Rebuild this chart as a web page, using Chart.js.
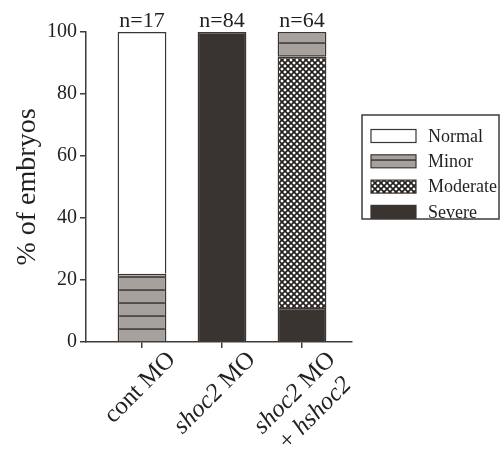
<!DOCTYPE html>
<html>
<head>
<meta charset="utf-8">
<script src="https://cdn.jsdelivr.net/npm/chart.js@4.4.1/dist/chart.umd.min.js"></script>
<style>
  html, body { margin: 0; padding: 0; background: #fff; }
  #wrap { width: 503px; height: 464px; position: relative; }
</style>
</head>
<body>
<div id="wrap"><canvas id="embryoChart"></canvas></div>
<script>
// data (percent of embryos per phenotype)
const categories = ['cont MO', 'shoc2 MO', 'shoc2 MO\n+ hshoc2'];
const italicWords = ['shoc2', 'hshoc2'];
const nValues = [17, 84, 64];
const severe = [0, 100, 11];
const moderate = [0, 0, 81];
const minor = [22, 0, 8];
const normal = [78, 0, 0];
const yTicks = [0, 20, 40, 60, 80, 100];

const family = '"Liberation Serif", "Times New Roman", serif';
const textColor = '#231f20';
const axisColor = '#3f3b39';
const edgeColor = '#3b3633';

// hatch fills
function makeMinorPattern() {
    const c = document.createElement('canvas');
    c.width = 8; c.height = 13;
    const g = c.getContext('2d');
    g.fillStyle = '#a7a19e';
    g.fillRect(0, 0, 8, 13);
    g.fillStyle = '#3b3633';
    g.fillRect(0, 3.3, 8, 1.5);
    return g.createPattern(c, 'repeat');
}

function makeCrossPattern() {
    const s = 6;
    const c = document.createElement('canvas');
    c.width = s; c.height = s;
    const g = c.getContext('2d');
    g.fillStyle = '#ffffff';
    g.fillRect(0, 0, s, s);
    g.strokeStyle = '#231f1e';
    g.lineWidth = 1.7;
    for (let d = -s; d <= s; d += s) {
        g.beginPath();
        g.moveTo(d - 1, -1); g.lineTo(d + s + 1, s + 1);
        g.moveTo(d + s + 1, -1); g.lineTo(d - 1, s + 1);
        g.stroke();
    }
    return g.createPattern(c, 'repeat');
}

const minorFill = makeMinorPattern();
const crossFill = makeCrossPattern();

function points(arr) {
    return arr.map((v, i) => ({ x: i, y: v }));
}

// n= counts above each bar
const countLabels = {
    id: 'countLabels',
    afterDatasetsDraw(chart) {
        const { ctx, scales } = chart;
        ctx.save();
        ctx.fillStyle = textColor;
        ctx.font = '22px ' + family;
        ctx.textAlign = 'center';
        ctx.textBaseline = 'alphabetic';
        nValues.forEach((n, i) => {
            const total = severe[i] + moderate[i] + minor[i] + normal[i];
            ctx.fillText('n=' + n, scales.x.getPixelForValue(i), scales.y.getPixelForValue(total) - 5);
        });
        ctx.restore();
    }
};

// rotated category labels with italic gene names
const categoryLabels = {
    id: 'categoryLabels',
    afterDraw(chart) {
        const { ctx, scales, chartArea } = chart;
        const size = 25;
        const fontFor = p => (p.italic ? 'italic ' : '') + size + 'px ' + family;
        ctx.save();
        ctx.fillStyle = textColor;
        ctx.textBaseline = 'middle';
        ctx.textAlign = 'left';
        categories.forEach((label, i) => {
            const ax = scales.x.getPixelForValue(i) + 30;
            const ay = chartArea.bottom + 14;
            const lines = label.split('\n').map(line => {
                const words = line.split(' ');
                const parts = words.map((w, k) => ({
                    text: w + (k < words.length - 1 ? ' ' : ''),
                    italic: italicWords.includes(w)
                }));
                let total = 0;
                parts.forEach(p => {
                    ctx.font = fontFor(p);
                    p.w = ctx.measureText(p.text).width;
                    total += p.w;
                });
                return { parts, total };
            });
            const mid = -lines[0].total / 2;
            ctx.save();
            ctx.translate(ax, ay);
            ctx.rotate(-Math.PI / 4);
            lines.forEach((ln, li) => {
                let x = mid - ln.total / 2;
                ln.parts.forEach(p => {
                    ctx.font = fontFor(p);
                    ctx.fillText(p.text, x, li * 29);
                    x += p.w;
                });
            });
            ctx.restore();
        });
        ctx.restore();
    }
};

// boxed legend on the right
const boxLegend = {
    id: 'boxLegend',
    afterDraw(chart) {
        const { ctx } = chart;
        const items = chart.data.datasets.slice().reverse();
        ctx.save();
        ctx.lineWidth = 1.5;
        ctx.strokeStyle = axisColor;
        ctx.strokeRect(362, 115, 137, 104);
        ctx.font = '18px ' + family;
        ctx.textBaseline = 'middle';
        ctx.textAlign = 'left';
        items.forEach((ds, k) => {
            const yc = 136 + k * 25.3;
            ctx.fillStyle = ds.backgroundColor;
            ctx.fillRect(371, yc - 6.5, 45, 13);
            ctx.lineWidth = 1.2;
            ctx.strokeStyle = edgeColor;
            ctx.strokeRect(371, yc - 6.5, 45, 13);
            ctx.fillStyle = textColor;
            ctx.fillText(ds.label, 428, yc + 1);
        });
        ctx.restore();
    }
};

const ctx = document.getElementById('embryoChart');

new Chart(ctx, {
    type: 'bar',
    data: {
        datasets: [
            { label: 'Severe', data: points(severe), backgroundColor: '#3a3431' },
            { label: 'Moderate', data: points(moderate), backgroundColor: crossFill },
            { label: 'Minor', data: points(minor), backgroundColor: minorFill },
            { label: 'Normal', data: points(normal), backgroundColor: '#ffffff' }
        ]
    },
    options: {
        responsive: true,
        maintainAspectRatio: false,
        animation: false,
        datasets: {
            bar: {
                borderColor: edgeColor,
                borderWidth: 1.5,
                categoryPercentage: 0.61,
                barPercentage: 1
            }
        },
        layout: {
            padding: { top: 32, right: 151, left: 0, bottom: 0 }
        },
        plugins: {
            legend: { display: false },
            tooltip: { enabled: false }
        },
        scales: {
            x: {
                type: 'linear',
                stacked: true,
                offset: false,
                bounds: 'data',
                min: -0.7,
                max: 2.625,
                afterDataLimits: s => { s.min = -0.7; s.max = 2.625; },
                afterBuildTicks: s => { s.ticks = categories.map((c, i) => ({ value: i })); },
                afterFit: s => { s.height = 122; },
                grid: { offset: false, drawOnChartArea: false, drawTicks: true, tickLength: 6, color: axisColor, lineWidth: 1.5 },
                border: { color: axisColor, width: 1.5 },
                ticks: { display: false }
            },
            y: {
                stacked: true,
                min: 0,
                max: 100,
                afterBuildTicks: s => { s.ticks = yTicks.map(v => ({ value: v })); },
                afterFit: s => { s.width = 86; },
                grid: { drawOnChartArea: false, drawTicks: true, tickLength: 6, color: axisColor, lineWidth: 1.5 },
                border: { color: axisColor, width: 1.5 },
                ticks: { color: textColor, font: { family: family, size: 20 }, padding: 3 },
                title: {
                    display: true,
                    text: '% of embryos',
                    color: textColor,
                    font: { family: family, size: 28 },
                    padding: { top: 11, bottom: 0 }
                }
            }
        }
    },
    plugins: [countLabels, categoryLabels, boxLegend]
});
</script>
</body>
</html>
